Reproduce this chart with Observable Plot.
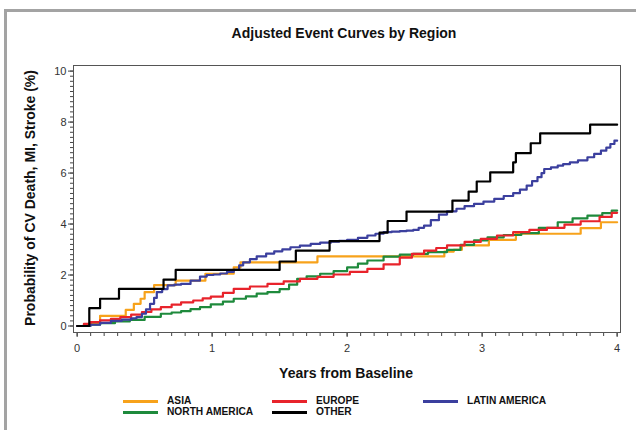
<!DOCTYPE html>
<html>
<head>
<meta charset="utf-8">
<script src="https://cdn.jsdelivr.net/npm/d3@7"></script>
<script src="https://cdn.jsdelivr.net/npm/@observablehq/plot@0.6"></script>
<style>
  html, body { margin: 0; padding: 0; background: #fff; }
  #wrap { position: relative; width: 636px; height: 430px; overflow: hidden; font-family: "Liberation Sans", Arial, sans-serif; }
  #outer { position: absolute; left: 4px; top: 9px; width: 700px; height: 500px; border-top: 3px solid #a3a3a3; border-left: 3px solid #a3a3a3; }
  #chart { position: absolute; left: 0; top: 0; }
  .title { position: absolute; left: 0; width: 688px; top: 25px; text-align: center; font-weight: bold; font-size: 14px; color: #111; }
  .ylab { position: absolute; left: 30px; top: 198px; transform: translate(-50%, -50%) rotate(-90deg); white-space: nowrap; font-weight: bold; font-size: 14px; color: #111; }
  .xlab { position: absolute; left: 346px; top: 365px; transform: translateX(-50%); white-space: nowrap; font-weight: bold; font-size: 14px; color: #111; }
  .leg { position: absolute; white-space: nowrap; font-weight: bold; font-size: 10.2px; color: #111; line-height: 10px; height: 10px; }
  .sw { position: absolute; width: 35px; height: 3px; }
</style>
</head>
<body>
<div id="wrap">
  <div id="outer"></div>
  <div id="chart"></div>
</div>
<script>
// ---- data ----
const regions = ["ASIA", "EUROPE", "LATIN AMERICA", "NORTH AMERICA", "OTHER"];
const colors = ["#f7a21b", "#e8232b", "#3b3f9e", "#1e8a3c", "#000000"];

const asiaT = [0, 0.09, 0.17, 0.36, 0.42, 0.47, 0.50, 0.57, 0.73, 0.95, 1.16, 1.21, 1.78, 2.72, 2.79, 2.85, 3.05, 3.25, 3.73, 3.88, 4.0];
const asiaY = [0, 0.10, 0.40, 0.63, 0.87, 1.07, 1.33, 1.60, 1.78, 2.05, 2.30, 2.50, 2.73, 2.92, 2.99, 3.16, 3.38, 3.62, 3.84, 4.07, 4.07];

const europeT = [0, 0.05, 0.10, 0.17, 0.25, 0.32, 0.40, 0.48, 0.55, 0.62, 0.70, 0.77, 0.86, 0.93, 0.99, 1.08, 1.16, 1.28, 1.41, 1.53, 1.65, 1.78, 1.90, 2.02, 2.15, 2.27, 2.39, 2.48, 2.57, 2.66, 2.74, 2.87, 2.99, 3.11, 3.23, 3.35, 3.48, 3.61, 3.73, 3.87, 3.96, 4.0];
const europeY = [0, 0.08, 0.15, 0.22, 0.28, 0.35, 0.45, 0.55, 0.65, 0.74, 0.84, 0.93, 1.00, 1.08, 1.15, 1.30, 1.46, 1.55, 1.65, 1.75, 1.85, 1.93, 2.02, 2.12, 2.24, 2.42, 2.68, 2.83, 2.96, 3.06, 3.16, 3.30, 3.42, 3.55, 3.68, 3.77, 3.85, 3.98, 4.11, 4.28, 4.44, 4.44];

const latamT = [0, 0.10, 0.17, 0.25, 0.33, 0.40, 0.44, 0.48, 0.51, 0.54, 0.57, 0.59, 0.63, 0.67, 0.72, 0.77, 0.84, 0.91, 0.96, 1.01, 1.06, 1.11, 1.16, 1.20, 1.23, 1.28, 1.33, 1.40, 1.46, 1.52, 1.58, 1.65, 1.73, 1.80, 1.88, 1.94, 2.00, 2.08, 2.15, 2.21, 2.27, 2.33, 2.39, 2.44, 2.49, 2.53, 2.57, 2.62, 2.68, 2.74, 2.81, 2.87, 2.94, 3.01, 3.09, 3.16, 3.23, 3.28, 3.33, 3.37, 3.41, 3.44, 3.46, 3.51, 3.56, 3.60, 3.65, 3.71, 3.78, 3.83, 3.88, 3.92, 3.95, 3.98, 4.0];
const latamY = [0, 0.05, 0.12, 0.20, 0.25, 0.30, 0.35, 0.48, 0.65, 0.87, 1.10, 1.33, 1.45, 1.59, 1.62, 1.65, 1.78, 1.94, 2.00, 2.02, 2.06, 2.12, 2.20, 2.38, 2.50, 2.62, 2.73, 2.84, 2.93, 3.01, 3.09, 3.15, 3.22, 3.27, 3.31, 3.34, 3.38, 3.46, 3.55, 3.62, 3.68, 3.70, 3.72, 3.74, 3.77, 3.85, 3.94, 4.15, 4.37, 4.50, 4.60, 4.70, 4.79, 4.88, 4.99, 5.10, 5.21, 5.35, 5.51, 5.68, 5.84, 6.00, 6.16, 6.22, 6.29, 6.35, 6.42, 6.50, 6.62, 6.75, 6.88, 7.00, 7.14, 7.27, 7.27];

const namT = [0, 0.08, 0.17, 0.28, 0.39, 0.50, 0.62, 0.70, 0.77, 0.84, 0.91, 0.99, 1.08, 1.16, 1.25, 1.33, 1.41, 1.50, 1.57, 1.63, 1.70, 1.80, 1.90, 2.00, 2.08, 2.15, 2.27, 2.39, 2.49, 2.60, 2.74, 2.84, 2.94, 3.04, 3.16, 3.29, 3.42, 3.56, 3.67, 3.78, 3.89, 3.96, 4.0];
const namY = [0, 0.05, 0.11, 0.18, 0.24, 0.36, 0.48, 0.53, 0.58, 0.66, 0.74, 0.85, 0.96, 1.07, 1.16, 1.27, 1.33, 1.45, 1.62, 1.85, 1.95, 2.05, 2.15, 2.30, 2.45, 2.57, 2.72, 2.80, 2.83, 2.90, 2.99, 3.18, 3.36, 3.48, 3.57, 3.64, 3.85, 4.07, 4.22, 4.33, 4.43, 4.53, 4.53];

const otherT = [0, 0.09, 0.17, 0.31, 0.64, 0.73, 1.50, 1.62, 1.87, 2.24, 2.30, 2.44, 2.78, 2.90, 2.96, 3.06, 3.23, 3.25, 3.36, 3.43, 3.80, 4.0];
const otherY = [0, 0.70, 1.07, 1.46, 1.82, 2.20, 2.53, 2.96, 3.33, 3.66, 4.12, 4.49, 4.92, 5.27, 5.67, 6.03, 6.42, 6.78, 7.17, 7.56, 7.90, 7.90];

const xMajor = [0, 1, 2, 3, 4];
const yMajor = [0, 2, 4, 6, 8, 10];
const xMinor = d3.range(0, 41).map(i => i / 10);
const yMinor = d3.range(0, 51).map(i => i / 5);

const titleText = "Adjusted Event Curves by Region";
const xLabel = "Years from Baseline";
const yLabel = "Probability of CV Death, MI, Stroke (%)";

// ---- build table ----
const seriesT = [asiaT, europeT, latamT, namT, otherT];
const seriesY = [asiaY, europeY, latamY, namY, otherY];
const rows = [];
regions.forEach((r, i) => seriesT[i].forEach((t, j) => rows.push({region: r, t, v: seriesY[i][j]})));
// draw order
const order = ["ASIA", "NORTH AMERICA", "EUROPE", "LATIN AMERICA", "OTHER"];

const marks = [
  Plot.axisX({ticks: xMinor, tickSize: 4, tickFormat: () => "", stroke: "#444", label: null}),
  Plot.axisX({ticks: xMajor, tickSize: 5, tickPadding: 7, tickFormat: d3.format("d"), fontSize: 11, fill: "#333", stroke: "#444", label: null}),
  Plot.axisY({ticks: yMinor, tickSize: 3, tickFormat: () => "", stroke: "#444", label: null}),
  Plot.axisY({ticks: yMajor, tickSize: 5, tickPadding: 2, tickFormat: d3.format("d"), fontSize: 11, fill: "#333", stroke: "#444", label: null}),
];
order.forEach(r => {
  const i = regions.indexOf(r);
  marks.push(Plot.line(rows.filter(d => d.region === r), {x: "t", y: "v", curve: "step-after", stroke: colors[i], strokeWidth: 2.2}));
});
marks.push(Plot.frame({stroke: "#555", strokeWidth: 1}));

const chart = Plot.plot({
  width: 636,
  height: 430,
  marginLeft: 73,
  marginRight: 16,
  marginTop: 65,
  marginBottom: 98,
  style: {background: "transparent", fontFamily: "'Liberation Sans', Arial, sans-serif"},
  x: {domain: [-0.027, 4.025]},
  y: {domain: [-0.255, 10.22]},
  marks
});
document.getElementById("chart").appendChild(chart);

const wrap = document.getElementById("wrap");
function addDiv(cls, text, style) {
  const d = document.createElement("div");
  d.className = cls;
  if (text) d.textContent = text;
  Object.assign(d.style, style || {});
  wrap.appendChild(d);
  return d;
}
addDiv("title", titleText);
addDiv("ylab", yLabel);
addDiv("xlab", xLabel);

// legend
const legPos = {
  "ASIA": [123, 400], "EUROPE": [272, 400], "LATIN AMERICA": [423, 400],
  "NORTH AMERICA": [123, 411], "OTHER": [272, 411]
};
regions.forEach((r, i) => {
  const [x, y] = legPos[r];
  addDiv("sw", "", {left: x + "px", top: y + "px", background: colors[i]});
  addDiv("leg", r, {left: (x + 44) + "px", top: (y - 4) + "px"});
});
</script>
</body>
</html>
